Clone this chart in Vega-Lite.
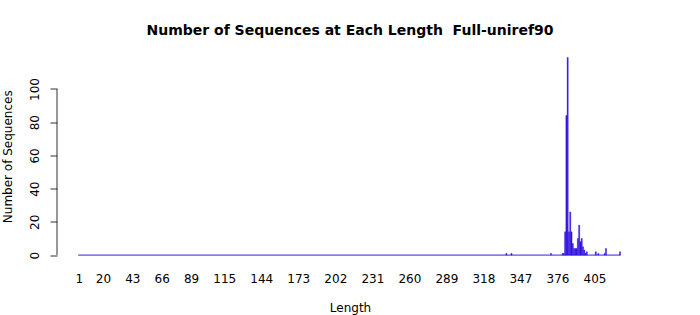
{
  "$schema": "https://vega.github.io/schema/vega-lite/v6.json",
  "autosize": "none",
  "width": 586,
  "height": 213.5,
  "padding": {"left": 57, "top": 49.5, "right": 57, "bottom": 52},
  "background": "white",
  "title": {
    "text": "Number of Sequences at Each Length \u00a0Full-uniref90",
    "font": "DejaVu Sans",
    "fontSize": 14,
    "fontWeight": "bold",
    "color": "#000000",
    "anchor": "middle",
    "offset": 12
  },
  "config": {
    "view": {"stroke": null},
    "axis": {"labelFont": "DejaVu Sans", "titleFont": "DejaVu Sans", "labelColor": "#000", "titleColor": "#000", "titleFontWeight": "normal", "grid": false, "labelFontSize": 12, "titleFontSize": 12, "domain": false, "labelFlush": false, "labelOverlap": false},
    "axisX": {"ticks": false, "labelPadding": 10, "titlePadding": 18},
    "axisY": {
      "labelAngle": -90, "labelAlign": "center", "labelBaseline": "bottom",
      "tickSize": 7, "tickColor": "#333333", "labelPadding": 9, "titlePadding": 14
    }
  },
  "layer": [
    {
      "data": {"values": [
        {"length": 336, "count": 1},
        {"length": 340, "count": 1},
        {"length": 371, "count": 1},
        {"length": 380, "count": 1},
        {"length": 381, "count": 1},
        {"length": 382, "count": 14},
        {"length": 383, "count": 84},
        {"length": 384, "count": 119},
        {"length": 385, "count": 14},
        {"length": 386, "count": 26},
        {"length": 387, "count": 14},
        {"length": 388, "count": 7},
        {"length": 389, "count": 4},
        {"length": 390, "count": 4},
        {"length": 391, "count": 4},
        {"length": 392, "count": 10},
        {"length": 393, "count": 18},
        {"length": 394, "count": 8},
        {"length": 395, "count": 10},
        {"length": 396, "count": 5},
        {"length": 397, "count": 3},
        {"length": 398, "count": 1},
        {"length": 399, "count": 2},
        {"length": 406, "count": 2},
        {"length": 408, "count": 1},
        {"length": 413, "count": 1},
        {"length": 414, "count": 4},
        {"length": 425, "count": 2}
      ]},
      "mark": {"type": "bar", "size": 1.1, "color": "#3010e0", "stroke": "#3010e0", "strokeWidth": 0.4},
      "encoding": {
        "x": {
          "field": "length", "type": "quantitative", "title": "Length",
          "scale": {"domain": [-16, 443], "nice": false, "zero": false, "padding": 0},
          "axis": {"values": [1, 20, 43, 66, 89, 115, 144, 173, 202, 231, 260, 289, 318, 347, 376, 405]}
        },
        "y": {
          "field": "count", "type": "quantitative", "title": "Number of Sequences",
          "scale": {"domain": [-4.76, 123.76], "nice": false, "zero": false, "padding": 0},
          "axis": {"values": [0, 20, 40, 60, 80, 100]}
        }
      }
    },
    {
      "data": {"values": [{"a": 0.6, "b": 425.4, "z": 0}]},
      "mark": {"type": "rule", "color": "#3322dd", "strokeWidth": 1},
      "encoding": {
        "x": {"field": "a", "type": "quantitative", "title": "Length",
          "axis": {"values": [1, 20, 43, 66, 89, 115, 144, 173, 202, 231, 260, 289, 318, 347, 376, 405]}},
        "x2": {"field": "b"},
        "y": {"field": "z", "type": "quantitative", "title": "Number of Sequences",
          "axis": {"values": [0, 20, 40, 60, 80, 100]}}
      }
    },
    {
      "data": {"values": [{"x": -16, "y0": 0, "y1": 100}]},
      "mark": {"type": "rule", "color": "#333333", "strokeWidth": 1},
      "encoding": {
        "x": {"field": "x", "type": "quantitative", "title": "Length",
          "axis": {"values": [1, 20, 43, 66, 89, 115, 144, 173, 202, 231, 260, 289, 318, 347, 376, 405]}},
        "y": {"field": "y0", "type": "quantitative", "title": "Number of Sequences",
          "axis": {"values": [0, 20, 40, 60, 80, 100]}},
        "y2": {"field": "y1"}
      }
    }
  ]
}
